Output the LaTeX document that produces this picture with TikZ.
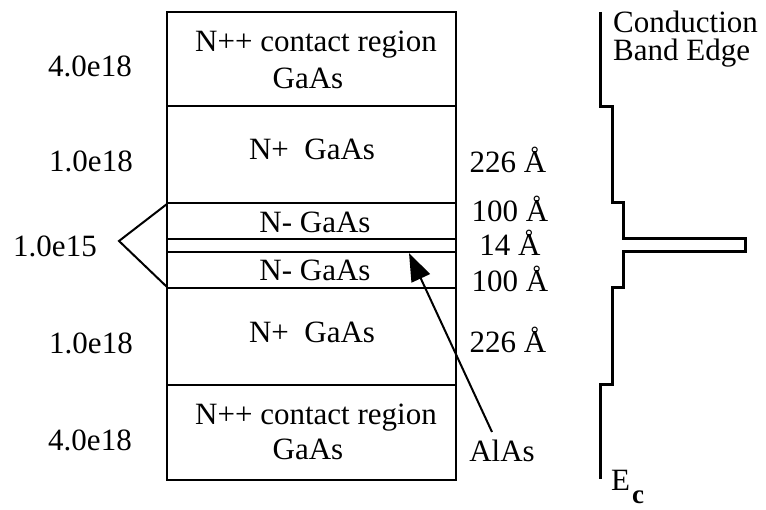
\documentclass[tikz,border=0pt]{standalone}
\usepackage{fontspec}
\setmainfont{Liberation Serif}
\usetikzlibrary{arrows.meta}
\begin{document}
\begin{tikzpicture}[x=1pt,y=-1pt,
  lbl/.style={inner sep=0pt, anchor=base, font=\fontsize{31}{34}\selectfont},
  wall/.style={line width=2.4pt},
  band/.style={line width=3pt, line join=miter},
  brace/.style={line width=2pt, line join=miter},
  pointer/.style={line width=2pt, -{Triangle[length=28pt,width=20pt]}},
]
\useasboundingbox (0,0) rectangle (766,510);

% layer stack
\coordinate (tl) at (167,12);
\coordinate (br) at (456,480);
\draw[wall] (tl) rectangle (br);
\foreach \y in {106,203,239,252,288,385}
  \draw[wall] (167,\y) -- (456,\y);

% layer names
\node[lbl] (cTopA) at (316,52) {N++ contact region};
\node[lbl] (cTopB) at (308,89) {GaAs};
\node[lbl] (npTop) at (312,160) {N+\ \ GaAs};
\node[lbl] (nmTop) at (315,233) {N- GaAs};
\node[lbl] (nmBot) at (315,281) {N- GaAs};
\node[lbl] (npBot) at (312,343) {N+\ \ GaAs};
\node[lbl] (cBotA) at (316,425) {N++ contact region};
\node[lbl] (cBotB) at (308,460) {GaAs};

% doping levels
\node[lbl] (d1) at (90,77) {4.0e18};
\node[lbl] (d2) at (91,172) {1.0e18};
\node[lbl] (d3) at (55,257) {1.0e15};
\node[lbl] (d4) at (91,354) {1.0e18};
\node[lbl] (d5) at (90,450) {4.0e18};

% bracket grouping the undoped layers
\coordinate (bTop) at (167,204);
\coordinate (bTip) at (119,241);
\coordinate (bBot) at (167,287);
\draw[brace] (bTop) -- (bTip) -- (bBot);

% thicknesses
\node[lbl] (t1) at (508,173) {226 Å};
\node[lbl] (t2) at (510,222) {100 Å};
\node[lbl] (t3) at (510,256) {14 Å};
\node[lbl] (t4) at (510,292) {100 Å};
\node[lbl] (t5) at (508,353) {226 Å};

% barrier label and pointer
\node[lbl] (alas) at (502,462) {AlAs};
\coordinate (tail) at (492,432);
\coordinate (tip) at (409,253);
\draw[pointer] (tail) -- (tip);

% conduction band edge profile
\draw[band] (600,12) -- (600,107) -- (612,107) -- (612,203) -- (623,203)
  -- (623,239) -- (745,239) -- (745,252) -- (623,252) -- (623,288)
  -- (612,288) -- (612,385) -- (600,385) -- (600,479);
\node[lbl, anchor=base west] (cb1) at (613,33) {Conduction};
\node[lbl, anchor=base west] (cb2) at (613,61) {Band Edge};
\node[lbl, anchor=base west] (ec) at (611,490) {E};
\node[lbl, anchor=base west, font=\fontsize{27}{30}\selectfont\bfseries] (ecsub) at (632,503) {c};
\end{tikzpicture}
\end{document}
